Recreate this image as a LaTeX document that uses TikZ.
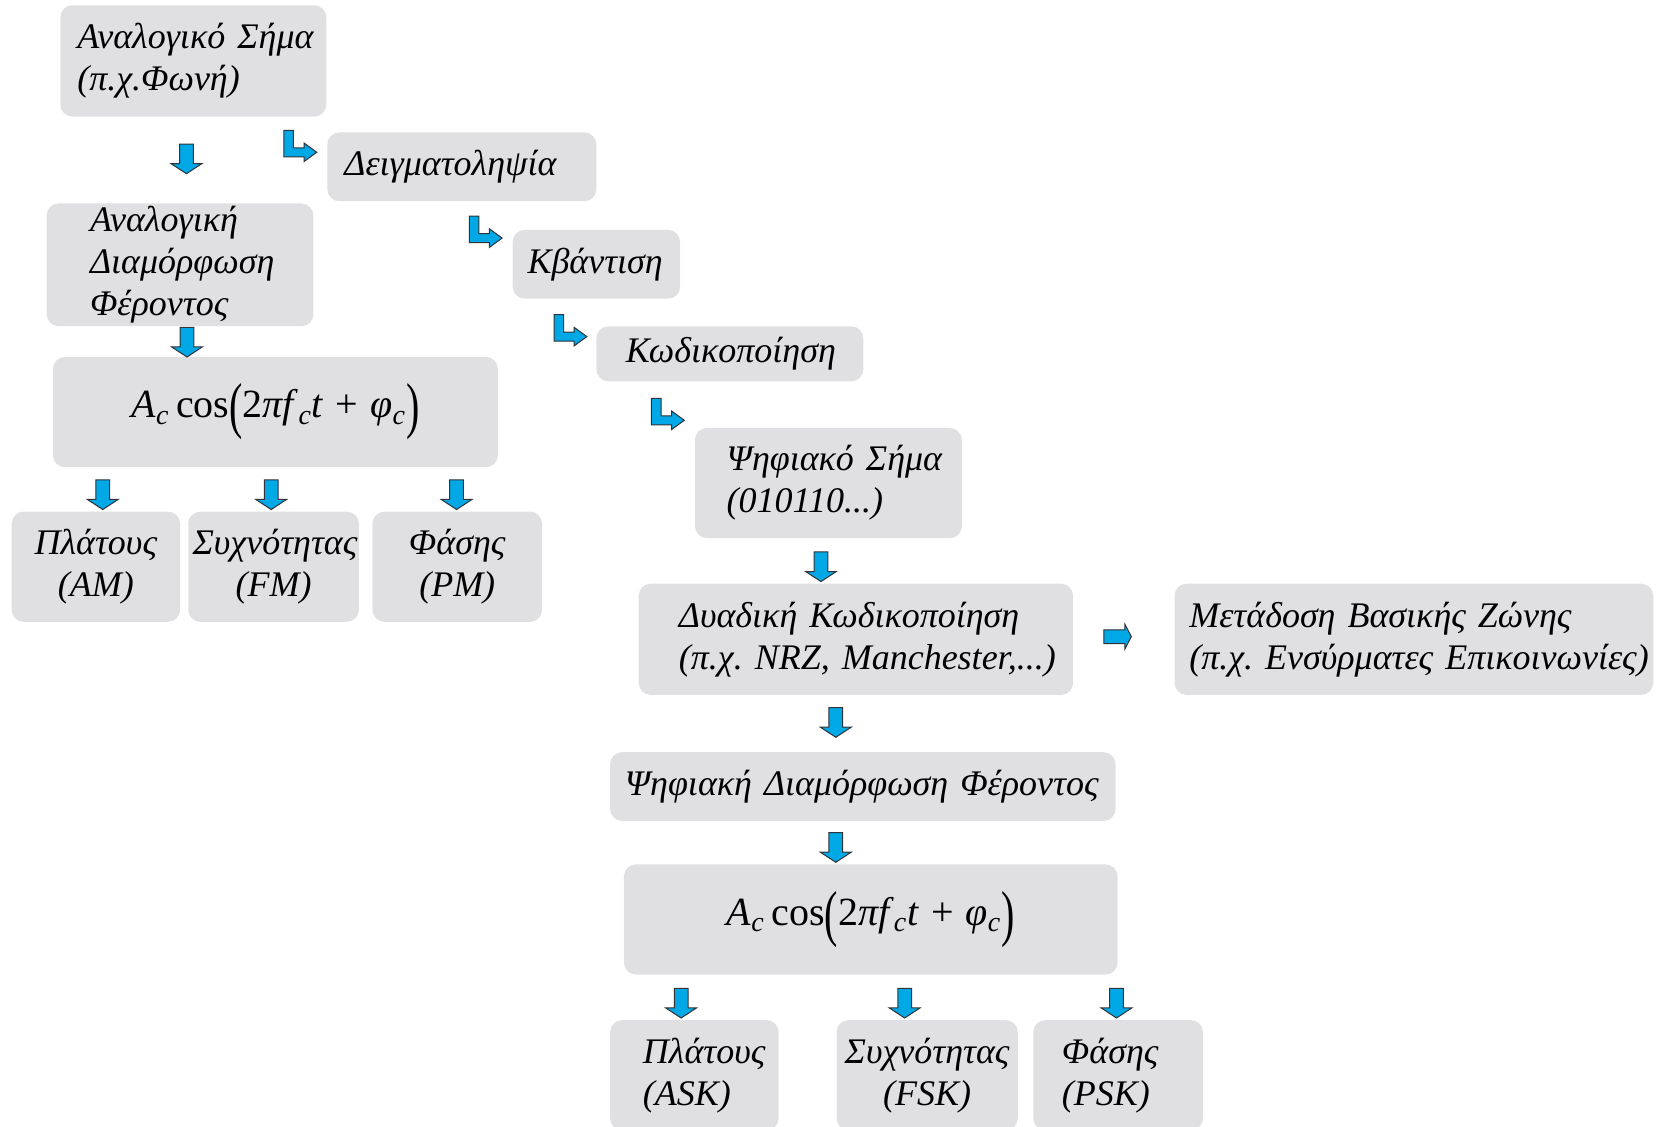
\documentclass[tikz,border=0pt]{standalone}
\usepackage{fontspec}
\usepackage{graphicx}
\setmainfont{Liberation Serif}
\usetikzlibrary{positioning}

\definecolor{boxgray}{RGB}{224,224,226}
\definecolor{arrowblue}{RGB}{0,168,230}
\definecolor{arrowline}{RGB}{50,50,55}

\hyphenpenalty=10000
\exhyphenpenalty=10000

% block arrows, drawn around the given point
\newcommand{\dnarrow}[1]{\draw[blockarrow] (#1) ++(-6.5,-14) -- ++(13,0) -- ++(0,18.5) -- ++(8,0) -- ++(-14.5,9.5) -- ++(-14.5,-9.5) -- ++(8,0) -- cycle;}
\newcommand{\rtarrow}[1]{\draw[blockarrow] (#1) ++(-13,-6.5) -- ++(20,0) -- ++(0,-5) -- ++(6,11.5) -- ++(-6,11.5) -- ++(0,-5) -- ++(-20,0) -- cycle;}
% bent block arrow, #1 = top left corner of the upright bar
\newcommand{\bentarrow}[1]{\draw[blockarrow] (#1) -- ++(9,0) -- ++(0,16.5) -- ++(10,0) -- ++(0,-4.5) -- ++(12,8.75) -- ++(-12,8.75) -- ++(0,-4.5) -- ++(-19,0) -- cycle;}

\newcommand{\tallparen}[1]{\raisebox{-4.5pt}{\scalebox{1}[1.55]{#1}}}
\newcommand{\carrierformula}{\upshape\fontsize{20}{24}\selectfont \textit{A}\textsubscript{\textit{c}}\,cos\tallparen{(}2\textit{πf}\textsubscript{\textit{c}}\textit{t}\hspace{0.3em}+\hspace{0.3em}\textit{φ}\textsubscript{\textit{c}}\tallparen{)}}

\begin{document}
\begin{tikzpicture}[x=0.5297pt, y=-0.5297pt,
	stage/.style={rectangle, rounded corners=6pt, fill=boxgray, inner ysep=0pt, font=\itshape\fontsize{18}{21}\selectfont},
	blockarrow/.style={fill=arrowblue, draw=arrowline, line width=0.5pt}]
	\useasboundingbox (0,0) rectangle (1568,1063);

	% analog branch
	\node (analog) [stage, align=left, minimum height=55.6pt, text width=116pt, inner xsep=8.5pt] at (182.5,57.5) {Αναλογικό~Σήμα\\(π.χ.Φωνή)};
	\node (anmod) [stage, align=left, minimum height=61.4pt, text width=90pt, inner xsep=21.7pt] at (170,250) {Αναλογική\\Διαμόρφωση\\Φέροντος};
	\node (carrierA) [stage, minimum width=222.5pt, minimum height=55.1pt] at (260,389) {\carrierformula};
	\node (am) [stage, align=center, minimum height=55.1pt, text width=80pt, inner xsep=2.1pt] at (90.5,535) {Πλάτους\\(AM)};
	\node (fm) [stage, align=center, minimum height=55.1pt, text width=81pt, inner xsep=2.15pt, right=3.7pt of am] {Συχνότητας\\(FM)};
	\node (pm) [stage, align=center, minimum height=55.1pt, text width=80.6pt, inner xsep=2.1pt, right=6.4pt of fm] {Φάσης\\(PM)};

	% digital branch
	\node (sampling) [stage, align=left, minimum height=34.4pt, text width=117.5pt, inner xsep=8.5pt] at (436,157.5) {Δειγματοληψία};
	\node (quant) [stage, align=left, minimum height=34.4pt, text width=68.9pt, inner xsep=7.4pt] at (563,249.5) {Κβάντιση};
	\node (coding) [stage, align=left, minimum height=27.5pt, text width=103.9pt, inner xsep=14.8pt] at (689,334) {Κωδικοποίηση};
	\node (digsig) [stage, align=left, minimum height=55.1pt, text width=101.7pt, inner xsep=15.9pt] at (782,456) {Ψηφιακό~Σήμα\\(010110...)};
	\node (lineenc) [stage, align=left, minimum height=55.6pt, text width=177pt, inner xsep=20.1pt] at (808,603.5) {Δυαδική~Κωδικοποίηση\\(π.χ.~NRZ,~Manchester,...)};
	\node (baseband) [stage, align=left, minimum height=55.6pt, text width=224.6pt, inner xsep=7.4pt, right=50.3pt of lineenc] {Μετάδοση~Βασικής~Ζώνης\\(π.χ.~Ενσύρματες~Επικοινωνίες)};
	\node (digmod) [stage, align=left, minimum height=34.4pt, text width=237.9pt, inner xsep=7.4pt] at (814.5,742.5) {Ψηφιακή~Διαμόρφωση~Φέροντος};
	\node (carrierD) [stage, minimum width=246.8pt, minimum height=55.1pt] at (822,868) {\carrierformula};
	\node (ask) [stage, align=left, minimum height=55.1pt, text width=51.4pt, inner xsep=16.4pt] at (655.5,1015) {Πλάτους\\(ASK)};
	\node (fsk) [stage, align=center, minimum height=55.1pt, text width=86pt, inner xsep=2.3pt, right=28.6pt of ask] {Συχνότητας\\(FSK)};
	\node (psk) [stage, align=left, minimum height=55.1pt, text width=56.2pt, inner xsep=14.3pt, right=7.4pt of fsk] {Φάσης\\(PSK)};

	% block arrows
	\dnarrow{176,150}
	\dnarrow{176.5,323}
	\dnarrow{97,467}
	\dnarrow{256,467}
	\dnarrow{431,467}
	\dnarrow{775,535}
	\dnarrow{789,682}
	\dnarrow{789,800}
	\dnarrow{643,947}
	\dnarrow{854,947}
	\dnarrow{1054,947}
	\rtarrow{1055,601}
	\bentarrow{268,123}
	\bentarrow{443,204}
	\bentarrow{523,297}
	\bentarrow{615,376}
\end{tikzpicture}
\end{document}
